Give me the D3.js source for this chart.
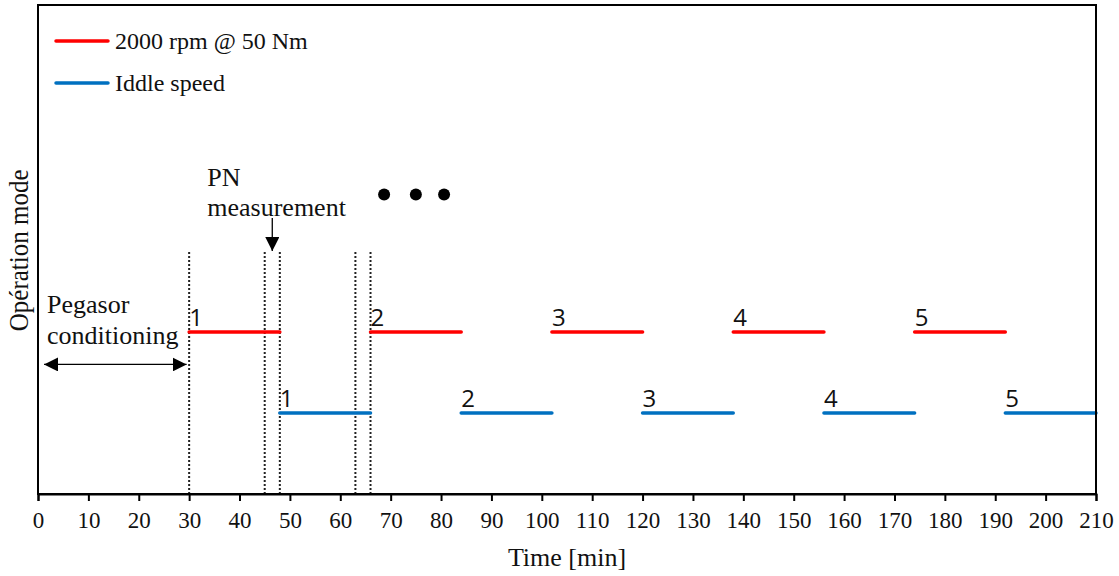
<!DOCTYPE html>
<html>
<head>
<meta charset="utf-8">
<script src="https://cdn.jsdelivr.net/npm/d3@7"></script>
<style>
    body { margin: 0; background: #fff; }
    svg text { font-family: "Liberation Serif", "Times New Roman", serif; fill: #111; }
    .num-label { font-family: "Open Sans", "Liberation Sans", sans-serif; }
</style>
</head>
<body>
<svg id="chart" width="1119" height="576"></svg>
<script>
// x ticks (min)
const x_ticks = d3.range(0, 211, 10);

// operating phases: [start, end, cycle number]
const high_load_phases = [[30, 48, 1], [66, 84, 2], [102, 120, 3], [138, 156, 4], [174, 192, 5]];
const idle_phases = [[48, 66, 1], [84, 102, 2], [120, 138, 3], [156, 174, 4], [192, 210, 5]];

// mode levels on the (unlabelled) y axis
const mode_levels = {high: 2, idle: 1};

// dotted markers for PN measurement windows
const measurement_marks = [30, 45, 48, 63, 66];

// the "..." dots
const ellipsis_dots = [68.7, 75, 80.6];

const legend_items = [
    {label: '2000 rpm @ 50 Nm', color: '#ff0000'},
    {label: 'Iddle speed', color: '#0070c0'}
];

const svg = d3.select('#chart');
const margin = {left: 38, right: 23, top: 5, bottom: 82};
const width = 1119 - margin.left - margin.right;
const height = 576 - margin.top - margin.bottom;

const x = d3.scaleLinear().domain([0, 210]).range([0, width]);
const y = d3.scaleLinear().domain([0, 6.04]).range([height, 0]);

const g = svg.append('g').attr('transform', `translate(${margin.left},${margin.top})`);

svg.append('defs').append('marker')
    .attr('id', 'head')
    .attr('viewBox', '0 0 10 10')
    .attr('refX', 10).attr('refY', 5)
    .attr('markerWidth', 14).attr('markerHeight', 14)
    .attr('markerUnits', 'userSpaceOnUse')
    .attr('orient', 'auto-start-reverse')
    .append('path').attr('d', 'M0,0 L10,5 L0,10 Z').attr('fill', '#000');

// dotted vertical lines
g.selectAll('.mark').data(measurement_marks).join('line')
    .attr('x1', d => x(d)).attr('x2', d => x(d))
    .attr('y1', y(2.99)).attr('y2', height)
    .attr('stroke', '#222').attr('stroke-width', 2)
    .attr('stroke-dasharray', '2,2');

function draw_phases(data, level, color) {
    g.selectAll(null).data(data).join('line')
        .attr('x1', d => x(d[0])).attr('x2', d => x(d[1]))
        .attr('y1', y(level)).attr('y2', y(level))
        .attr('stroke', color).attr('stroke-width', 3.5).attr('stroke-linecap', 'round');
    g.selectAll(null).data(data).join('text')
        .attr('class', 'num-label')
        .attr('x', d => x(d[0])).attr('y', y(level) - 6)
        .attr('font-size', 24)
        .text(d => d[2]);
}
draw_phases(high_load_phases, mode_levels.high, '#ff0000');
draw_phases(idle_phases, mode_levels.idle, '#0070c0');

// ellipsis dots
g.selectAll('.dot').data(ellipsis_dots).join('circle')
    .attr('cx', d => x(d)).attr('cy', y(3.70)).attr('r', 6).attr('fill', '#000');

// PN measurement annotation
g.append('text').attr('x', x(33.6)).attr('y', y(3.80)).attr('font-size', 26).text('PN');
g.append('text').attr('x', x(33.6)).attr('y', y(3.43)).attr('font-size', 26).text('measurement');
g.append('line')
    .attr('x1', x(46.5)).attr('x2', x(46.5))
    .attr('y1', y(3.41)).attr('y2', y(3.0))
    .attr('stroke', '#000').attr('stroke-width', 1.3)
    .attr('marker-end', 'url(#head)');

// Pegasor conditioning annotation
g.append('text').attr('x', x(1.8)).attr('y', y(2.24)).attr('font-size', 26).text('Pegasor');
g.append('text').attr('x', x(1.8)).attr('y', y(1.85)).attr('font-size', 26).text('conditioning');
g.append('line')
    .attr('x1', x(1.2)).attr('x2', x(29.5))
    .attr('y1', y(1.60)).attr('y2', y(1.60))
    .attr('stroke', '#000').attr('stroke-width', 1.3)
    .attr('marker-start', 'url(#head)').attr('marker-end', 'url(#head)');

// frame
g.append('rect').attr('width', width).attr('height', height)
    .attr('fill', 'none').attr('stroke', '#000').attr('stroke-width', 2);

// x axis
const x_axis = g.append('g').attr('transform', `translate(0,${height})`)
    .call(d3.axisBottom(x).tickValues(x_ticks).tickSize(7).tickPadding(11));
x_axis.select('.domain').attr('stroke-width', 2);
x_axis.selectAll('.tick line').attr('stroke-width', 2);
x_axis.selectAll('text').attr('font-size', 23).attr('font-family', '"Liberation Serif", serif').attr('fill', '#111');

svg.append('text')
    .attr('x', margin.left + width / 2).attr('y', 566)
    .attr('text-anchor', 'middle').attr('font-size', 26).text('Time [min]');

svg.append('text')
    .attr('transform', `translate(28,${margin.top + y(3.01)}) rotate(-90)`)
    .attr('text-anchor', 'middle').attr('font-size', 27)
    .attr('textLength', 162).attr('lengthAdjust', 'spacingAndGlyphs')
    .text('Opération mode');

// legend
const legend = g.selectAll('.legend').data(legend_items).join('g')
    .attr('transform', (d, i) => `translate(18,${36 + i * 42})`);
legend.append('line').attr('x1', 0).attr('x2', 52)
    .attr('stroke', d => d.color).attr('stroke-width', 3.5).attr('stroke-linecap', 'round');
legend.append('text').attr('x', 59).attr('y', 8).attr('font-size', 24).text(d => d.label);
</script>
</body>
</html>
